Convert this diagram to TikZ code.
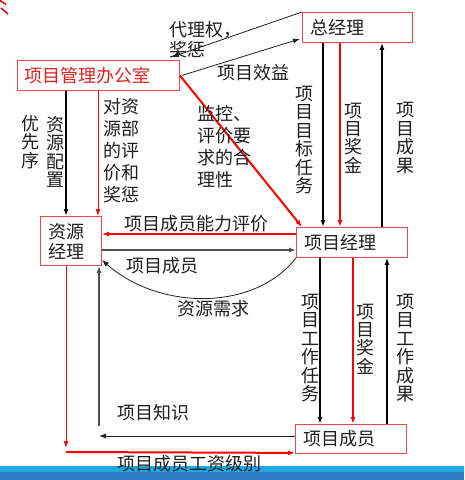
\documentclass[tikz,border=0pt]{standalone}
\usepackage{fontspec}
\setmainfont{Noto Sans CJK SC}
\usetikzlibrary{arrows.meta}
\definecolor{boxred}{HTML}{EE4A4A}
\definecolor{lred}{HTML}{FF0000}
\definecolor{pmored}{HTML}{E0201F}
\definecolor{txt}{HTML}{1E1E1E}
\definecolor{gline}{HTML}{505050}
\definecolor{barlight}{HTML}{1FA8E0}
\definecolor{bardark}{HTML}{2B7CC2}
\newcommand{\labfont}{\fontsize{18}{20}\selectfont}
\newcommand{\vfont}{\fontsize{18}{18.4}\selectfont}
\newcommand{\mfont}{\fontsize{18}{22}\selectfont}
\begin{document}
\begin{tikzpicture}[x=1pt,y=-1pt,
  box/.style={draw=boxred, line width=0.9pt, anchor=north west, inner xsep=8pt, inner ysep=0pt, align=left, font=\labfont, text=txt},
  lbl/.style={text=txt, inner sep=0pt, font=\labfont},
  vlbl/.style={text=txt, inner sep=0pt, font=\vfont, align=center},
  mlbl/.style={text=txt, inner sep=0pt, font=\mfont, align=left, anchor=west},
  ar/.style={-{Latex[length=7pt,width=5pt]}},
  thinblk/.style={ar, draw=txt, line width=0.8pt},
  thickblk/.style={ar, draw=black, line width=2.2pt},
  thinred/.style={ar, draw=lred, line width=0.9pt},
  thickred/.style={ar, draw=lred, line width=2pt},
  grayln/.style={ar, draw=gline, line width=1.3pt}]
\useasboundingbox (0,0) rectangle (464,480);
\fill[barlight] (0,466) rectangle (464,472);
\fill[bardark] (0,472) rectangle (464,480);
\draw[red!80!black, line width=1.5pt] (0,0.5) -- (6,4.5) (1,8) -- (8,14);

% boxes
\node[box, minimum width=110pt, minimum height=30pt, text width=94pt] (gm) at (302,12) {总经理};
\node[box, text=pmored, inner xsep=7pt, minimum width=162pt, minimum height=30pt, text width=148pt] (pmo) at (17,60) {项目管理办公室};
\node[box, minimum width=61pt, minimum height=49pt, text width=45pt] (rm) at (40,216) {资源\\经理};
\node[box, minimum width=111pt, minimum height=30pt, text width=95pt] (pm) at (296,227) {项目经理};
\node[box, minimum width=111pt, minimum height=29pt, text width=95pt] (mem) at (295,424) {项目成员};

% top connectors
\draw[thinblk] ([xshift=2pt]pmo.east) -- ([xshift=-2pt,yshift=4pt]gm.south west);
\draw[thinblk] (gm.north west) -- ([xshift=155pt,yshift=3pt]pmo.north west);
\node[lbl, align=left, anchor=west] (lagent) at (169,40) {代理权，\\奖惩};
\node[lbl, anchor=west] (lbenefit) at (217,73) {项目效益};

% PMO -> RM
\draw[thickblk] ([xshift=49pt]pmo.south west) -- ([xshift=26pt]rm.north west);
\draw[thinred] ([xshift=81pt]pmo.south west) -- ([xshift=58pt]rm.north west);
\node[vlbl] (lprio) at (30,142) {优\\先\\序};
\node[vlbl] (lalloc) at (55,152) {资\\源\\配\\置};
\node[mlbl] (leval) at (103,150.5) {对资\\源部\\的评\\价和\\奖惩};

% PMO -> PM
\draw[thickred] (pmo.east) -- ([xshift=6pt]pm.north west);
\node[mlbl] (lmon) at (197,146.5) {监控、\\评价要\\求的合\\理性};

% GM <-> PM
\draw[thickblk] ([xshift=21pt]gm.south west) -- ([xshift=27pt]pm.north west);
\draw[thickred] ([xshift=38pt]gm.south west) -- ([xshift=44pt]pm.north west);
\draw[thickblk] ([xshift=86pt]pm.north west) -- ([xshift=80pt]gm.south west);
\node[vlbl] (ltask) at (304,140) {项\\目\\目\\标\\任\\务};
\node[vlbl] (lbonus) at (353,138) {项\\目\\奖\\金};
\node[vlbl] (lresult) at (405,138) {项\\目\\成\\果};

% PM <-> RM
\draw[thickred] ([yshift=-7pt]pm.north west) -- ([yshift=-18pt]rm.north east);
\node[lbl, anchor=west] (lability) at (124,224) {项目成员能力评价};
\draw[grayln] ([yshift=-34pt]rm.north east) -- ([yshift=-23pt]pm.north west);
\node[lbl, anchor=west] (lmembers) at (126,266) {项目成员};
\draw[thinblk] (pm.south west) .. controls (255,311) and (160,311) .. ([yshift=-44pt]rm.north east);
\node[lbl, anchor=west] (lneed) at (177,309) {资源需求};

% PM <-> MEM
\draw[thickblk] ([xshift=24pt]pm.south west) -- ([xshift=25pt]mem.north west);
\draw[thickred] ([xshift=57pt]pm.south west) -- ([xshift=58pt]mem.north west);
\draw[thickblk] ([xshift=92pt]mem.north west) -- ([xshift=91pt]pm.south west);
\node[vlbl] (lwtask) at (310,348) {项\\目\\工\\作\\任\\务};
\node[vlbl] (lbonus2) at (365,339) {项\\目\\奖\\金};
\node[vlbl] (lwres) at (405,348) {项\\目\\工\\作\\成\\果};

% MEM -> RM knowledge
\coordinate (kend) at (99,436);
\coordinate (kstart) at (99,426);
\draw[thinblk] ([yshift=-12pt]mem.north west) -- (kend);
\draw[grayln] (kstart) -- ([xshift=59pt]rm.south west);
\node[lbl, anchor=west] (lknow) at (117,413) {项目知识};

% RM -> MEM salary
\coordinate (send) at (66,448);
\coordinate (sstart) at (66,452);
\draw[thinred] ([xshift=26pt]rm.south west) -- (send);
\draw[thickred] (sstart) -- ([yshift=1pt]mem.south west);
\node[lbl, anchor=west] (lsalary) at (117,464) {项目成员工资级别};
\end{tikzpicture}
\end{document}
